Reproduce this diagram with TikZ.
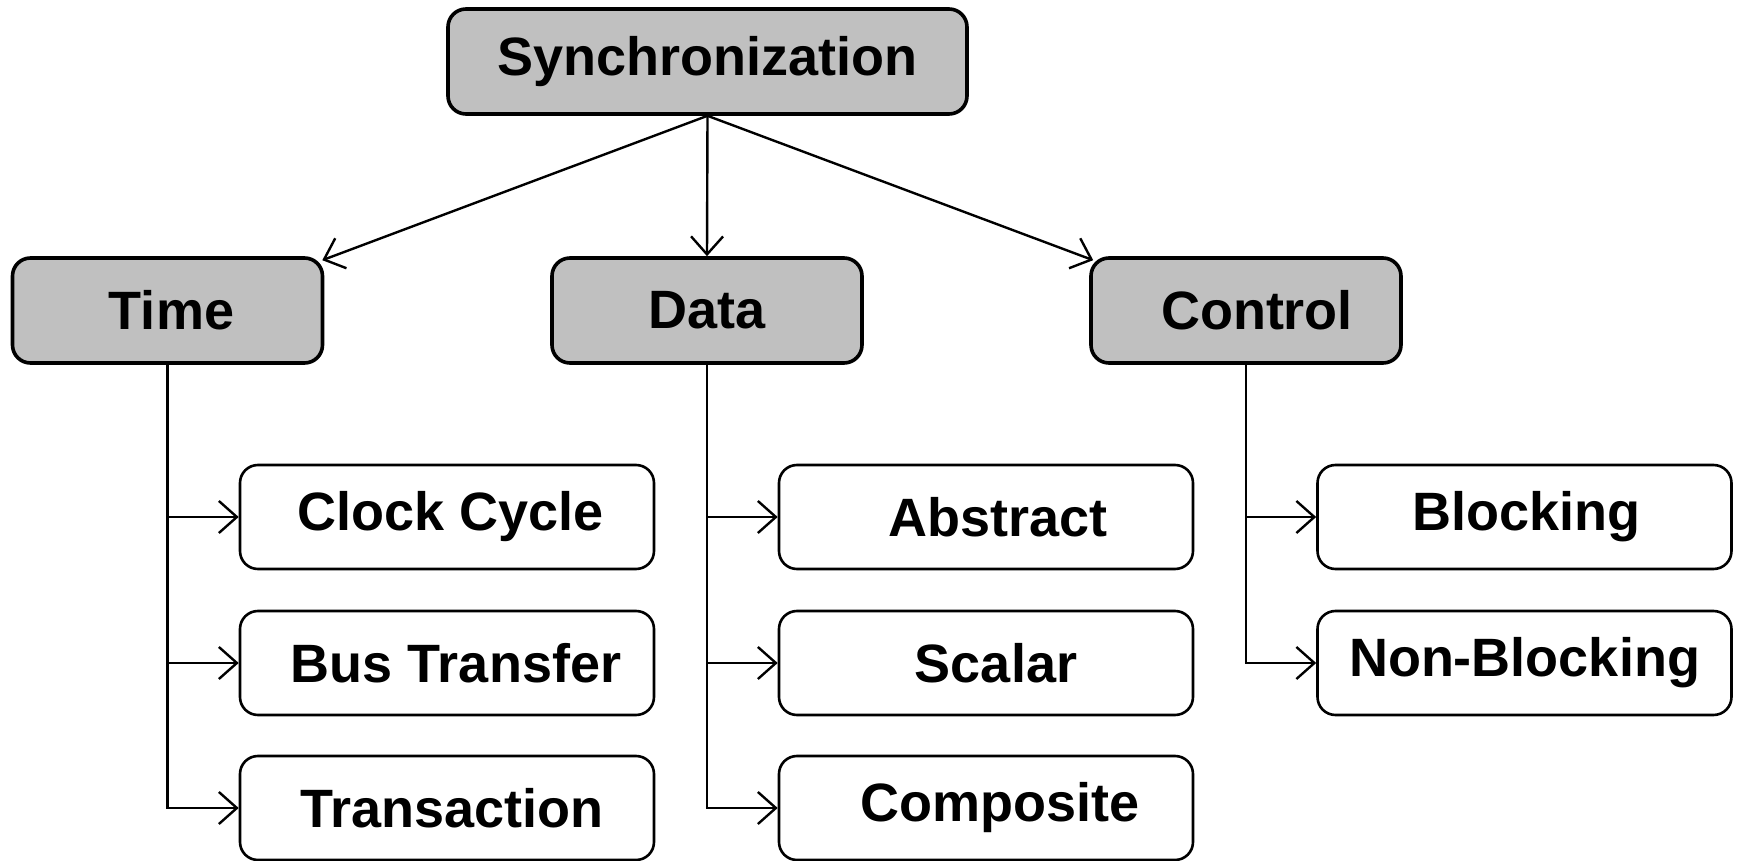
\documentclass[tikz,border=0pt]{standalone}
\usepackage{fontspec}
\setmainfont{Liberation Sans}
\usetikzlibrary{arrows.meta}
\begin{document}
\begin{tikzpicture}[x=0.5pt,y=-0.5pt,
  every node/.style={font=\fontsize{27}{30}\selectfont\bfseries, inner sep=0pt},
  catbox/.style={draw, line width=1.8pt, fill=catgray, rounded corners=9pt, minimum width=155pt, minimum height=52.5pt},
  leafbox/.style={draw, line width=1.3pt, fill=white, rounded corners=9pt, minimum width=207pt, minimum height=52pt},
  conn/.style={line width=1.2pt, -{Straight Barb[length=9pt, width=16pt, line width=1.2pt]}},
  trunk/.style={line width=1.2pt}
]
\definecolor{catgray}{RGB}{192,192,192}
\useasboundingbox (0,0) rectangle (1737,861);
\node[catbox, minimum width=259.5pt] (sync) at (707.5,61.5) {Synchronization};
\node[catbox] (time) at (167.5,310.5) {\hspace{4pt}Time};
\node[catbox] (data) at (707,310.5) {Data\hspace{6pt}};
\node[catbox] (ctrl) at (1246,310.5) {\hspace{11pt}Control};

\node[leafbox] (clock) at (447,517) {\hspace{4pt}Clock Cycle};
\node[leafbox] (bus) at (447,663) {\hspace{9pt}Bus Transfer};
\node[leafbox] (trans) at (447,808) {\hspace{5pt}Transaction};

\node[leafbox] (abs) at (986,517) {\hspace{12pt}Abstract};
\node[leafbox] (scal) at (986,663) {\hspace{10pt}Scalar};
\node[leafbox] (comp) at (986,808) {\hspace{14pt}Composite};

\node[leafbox] (block) at (1524.5,517) {\hspace{2pt}Blocking};
\node[leafbox] (nonb) at (1524.5,663) {Non-Blocking};

\draw[conn] (sync.south) -- ([xshift=-1pt,yshift=-2pt]time.north east);
\draw[conn] (sync.south) -- (data.north);
\draw[conn] (sync.south) -- ([xshift=2pt,yshift=-2pt]ctrl.north west);

\draw[trunk] (time.south) -- (time.south |- trans.west);
\draw[conn] (time.south |- clock.west) -- (clock.west);
\draw[conn] (time.south |- bus.west) -- (bus.west);
\draw[conn] ([xshift=-0.6pt]time.south |- trans.west) -- (trans.west);

\draw[trunk] (data.south) -- (data.south |- comp.west);
\draw[conn] (data.south |- abs.west) -- (abs.west);
\draw[conn] (data.south |- scal.west) -- (scal.west);
\draw[conn] ([xshift=-0.6pt]data.south |- comp.west) -- (comp.west);

\draw[trunk] (ctrl.south) -- (ctrl.south |- nonb.west);
\draw[conn] (ctrl.south |- block.west) -- (block.west);
\draw[conn] ([xshift=-0.6pt]ctrl.south |- nonb.west) -- (nonb.west);
\end{tikzpicture}
\end{document}
